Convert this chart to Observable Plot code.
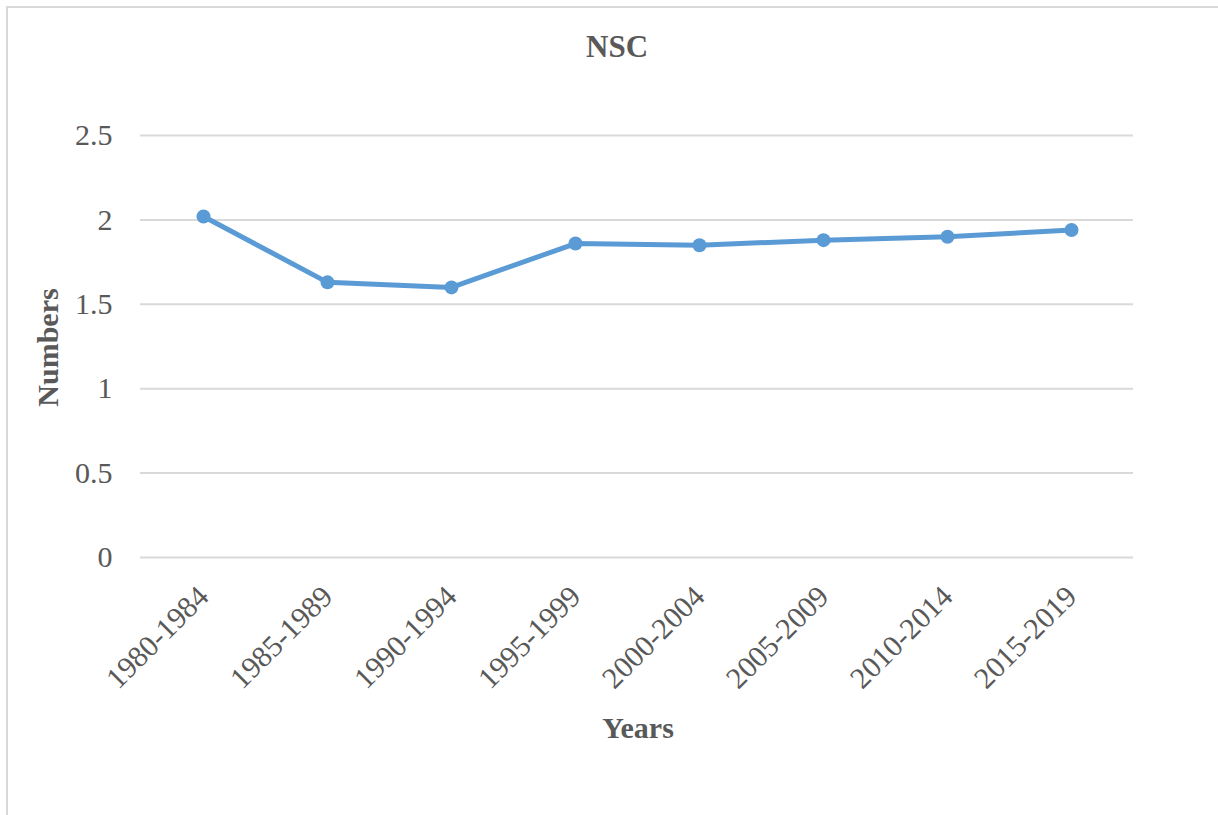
<!DOCTYPE html>
<html>
<head>
<meta charset="utf-8">
<script src="https://cdn.jsdelivr.net/npm/d3@7"></script>
<script src="https://cdn.jsdelivr.net/npm/@observablehq/plot@0.6"></script>
<style>
  html, body { margin: 0; padding: 0; background: #fff; overflow: hidden; width: 1218px; height: 815px; }
  #frame { position: absolute; left: 6px; top: 6px; width: 1240px; height: 900px; border: 2px solid #d9d9d9; box-sizing: border-box; }
  #chart { position: absolute; left: 0; top: 0; }
</style>
</head>
<body>
<div id="frame"></div>
<div id="chart"></div>
<script>
const categories = ["1980-1984", "1985-1989", "1990-1994", "1995-1999", "2000-2004", "2005-2009", "2010-2014", "2015-2019"];
const values = [2.02, 1.63, 1.60, 1.86, 1.85, 1.88, 1.90, 1.94];
const yTicks = [0, 0.5, 1, 1.5, 2, 2.5];
const title = "NSC";
const xLabel = "Years";
const yLabel = "Numbers";

const data = categories.map((c, i) => ({period: c, value: values[i]}));
const font = "'Liberation Serif', 'Times New Roman', Times, serif";
const textColor = "#595959";

const chart = Plot.plot({
  width: 1218,
  height: 815,
  marginLeft: 140,
  marginRight: 85,
  marginTop: 135,
  marginBottom: 258,
  style: {fontFamily: font, background: "transparent", overflow: "visible"},
  x: {type: "point", domain: categories, padding: 0.5, label: null},
  y: {domain: [0, 2.5], label: null},
  marks: [
    Plot.gridY(yTicks, {stroke: "#d9d9d9", strokeOpacity: 1, strokeWidth: 2}),
    Plot.axisY(yTicks, {tickSize: 0, tickPadding: 28, fontSize: 30, fill: textColor, label: null, tickFormat: d => String(d)}),
    Plot.axisX({tickSize: 0, tickPadding: 34, tickRotate: -45, fontSize: 30, fill: textColor, label: null}),
    Plot.line(data, {x: "period", y: "value", stroke: "#5b9bd5", strokeWidth: 5}),
    Plot.dot(data, {x: "period", y: "value", r: 7, fill: "#5b9bd5", stroke: "none"}),
    Plot.text([title], {frameAnchor: "top", dx: -20, dy: -88, fontSize: 31, fontWeight: "bold", fill: textColor, lineAnchor: "middle"}),
    Plot.text([xLabel], {frameAnchor: "bottom", dx: 1, dy: 171, fontSize: 30, fontWeight: "bold", fill: textColor, lineAnchor: "middle"}),
    Plot.text([yLabel], {frameAnchor: "left", dx: -92, dy: 1, rotate: -90, fontSize: 30, fontWeight: "bold", fill: textColor, lineAnchor: "middle", textAnchor: "middle"})
  ]
});
document.getElementById("chart").appendChild(chart);
</script>
</body>
</html>
